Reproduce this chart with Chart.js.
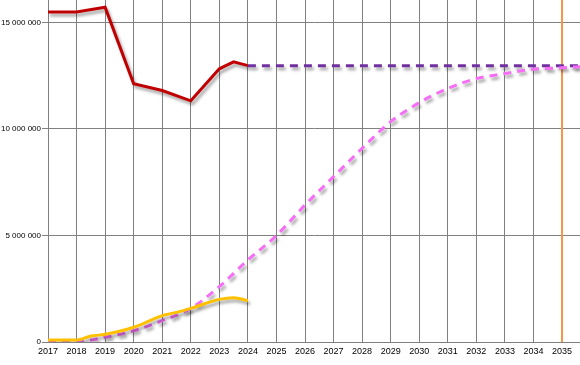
<!DOCTYPE html>
<html>
<head>
<meta charset="utf-8">
<script src="https://cdn.jsdelivr.net/npm/chart.js@4"></script>
<style>
  html, body { margin: 0; padding: 0; background: #fff; }
  #wrap { width: 580px; height: 365px; }
</style>
</head>
<body>
<div id="wrap"><canvas id="chart"></canvas></div>
<script>
// history (red) - half-year point in 2023
const histYears = [2017, 2018, 2019, 2020, 2021, 2022, 2023, 2023.5, 2024];
const histValues = [15490000, 15490000, 15710000, 12120000, 11800000, 11320000, 12820000, 13150000, 12970000];

// flat projection (purple dashed)
const flatYears = [2024, 2035.63];
const flatValues = [12970000, 12970000];

// growth curve (pink dashed)
const curveYears = [2017, 2018, 2019, 2020, 2021, 2022, 2023, 2024, 2025, 2026, 2027, 2028, 2029, 2030, 2031, 2032, 2033, 2034, 2035, 2035.63];
const curveValues = [0, 10000, 220000, 530000, 1000000, 1580000, 2600000, 3850000, 5000000, 6430000, 7760000, 9090000, 10340000, 11230000, 11900000, 12360000, 12600000, 12800000, 12870000, 12920000];

// actual growth (yellow)
const actualYears = [2017, 2018, 2018.5, 2019, 2020, 2021, 2021.5, 2022, 2023, 2023.5, 2024];
const actualValues = [90000, 90000, 280000, 360000, 690000, 1240000, 1390000, 1580000, 2000000, 2080000, 1940000];

// marker year (orange vertical)
const markerYear = 2035;

// axis ticks
const yTicks = [0, 5000000, 10000000, 15000000];
const xMin = 2017, xMax = 2035.63;
const yMax = 16050000;

const pts = (xs, ys) => xs.map((x, i) => ({ x: x, y: ys[i] }));

// gray drop shadow under the series lines
const lineShadow = {
    id: 'lineShadow',
    beforeDatasetDraw(chart, args) {
        const ds = chart.data.datasets[args.index];
        if (ds.noShadow) return;
        const ctx = chart.ctx;
        ctx.save();
        ctx.shadowColor = 'rgba(0,0,0,0.35)';
        ctx.shadowBlur = 3;
        ctx.shadowOffsetX = 2;
        ctx.shadowOffsetY = 3;
    },
    afterDatasetDraw(chart, args) {
        const ds = chart.data.datasets[args.index];
        if (ds.noShadow) return;
        chart.ctx.restore();
    }
};

const fmt = v => String(v).replace(/\B(?=(\d{3})+(?!\d))/g, ' ');

new Chart(document.getElementById('chart'), {
    type: 'line',
    data: {
        datasets: [
            {
                data: pts(curveYears, curveValues),
                borderColor: '#f56ef5',
                borderWidth: 3,
                borderDash: [8, 6],
                cubicInterpolationMode: 'monotone',
                pointRadius: 0,
                order: 1
            },
            {
                data: pts(flatYears, flatValues),
                borderColor: '#7030a0',
                borderWidth: 3,
                borderDash: [8, 6],
                pointRadius: 0,
                order: 2
            },
            {
                data: pts(actualYears, actualValues),
                borderColor: '#ffc000',
                borderWidth: 3,
                cubicInterpolationMode: 'monotone',
                pointRadius: 0,
                order: 0
            },
            {
                data: pts(histYears, histValues),
                borderColor: '#c00000',
                borderWidth: 3,
                tension: 0,
                pointRadius: 0,
                order: 3
            },
            {
                data: pts([markerYear, markerYear], [0, yMax]),
                borderColor: '#f79646',
                borderWidth: 2,
                pointRadius: 0,
                noShadow: true,
                order: 4
            }
        ]
    },
    options: {
        responsive: true,
        maintainAspectRatio: false,
        animation: false,
        layout: { padding: 0 },
        plugins: {
            legend: { display: false },
            tooltip: { enabled: false }
        },
        scales: {
            x: {
                type: 'linear',
                min: xMin,
                max: xMax,
                afterFit: s => { s.height = 23; s.paddingRight = 0; },
                ticks: {
                    stepSize: 1,
                    includeBounds: false,
                    maxRotation: 0,
                    autoSkip: false,
                    padding: 4,
                    color: '#000',
                    font: { family: '"Liberation Sans Narrow", "Liberation Sans", Arial', size: 9 },
                    callback: v => String(v)
                },
                grid: { color: '#808080', lineWidth: 1, drawTicks: false },
                border: { color: '#808080', width: 1 }
            },
            y: {
                min: 0,
                max: yMax,
                afterFit: s => { s.width = 48; s.paddingTop = 0; s.paddingBottom = 0; },
                afterBuildTicks: s => { s.ticks = yTicks.map(v => ({ value: v })); },
                ticks: {
                    padding: 1,
                    color: '#000',
                    font: { family: '"Liberation Sans Narrow", "Liberation Sans", Arial', size: 8 },
                    callback: v => fmt(v)
                },
                grid: { color: '#808080', lineWidth: 1, tickLength: 6 },
                border: { color: '#808080', width: 1 }
            }
        }
    },
    plugins: [lineShadow]
});
</script>
</body>
</html>
